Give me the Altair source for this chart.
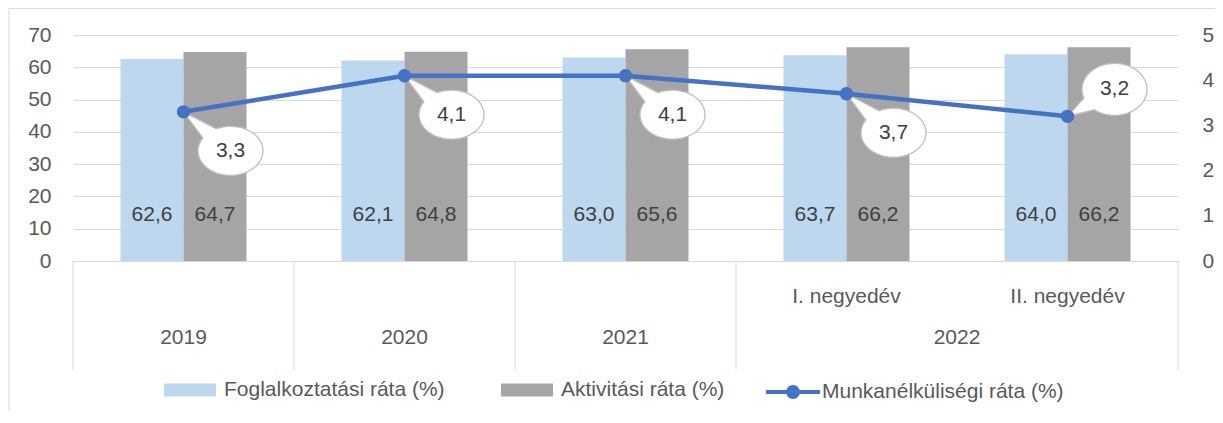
import math
import numpy as np
import pandas as pd
import altair as alt

# ---------------- data ----------------
periods = ["2019", "2020", "2021", "2022 I. negyedév", "2022 II. negyedév"]
year_labels = ["2019", "2020", "2021", "2022", "2022"]
quarter_labels = ["", "", "", "I. negyedév", "II. negyedév"]

foglalkoztatasi = [62.6, 62.1, 63.0, 63.7, 64.0]
aktivitasi = [64.7, 64.8, 65.6, 66.2, 66.2]
munkanelkuli = [3.3, 4.1, 4.1, 3.7, 3.2]

S_F = "Foglalkoztatási ráta (%)"
S_A = "Aktivitási ráta (%)"
S_M = "Munkanélküliségi ráta (%)"

left_ticks = [0, 10, 20, 30, 40, 50, 60, 70]
right_ticks = [0, 1, 2, 3, 4, 5]

FONT = "Liberation Sans"
FS = 21


def fmt(v):
    return f"{v:.1f}".replace(".", ",")


bars_df = pd.DataFrame({
    "period": periods * 2,
    "series": [S_F] * len(periods) + [S_A] * len(periods),
    "value": foglalkoztatasi + aktivitasi,
})
bars_df["label"] = bars_df["value"].map(fmt)

line_df = pd.DataFrame({
    "period": periods,
    "series": S_M,
    "value": munkanelkuli,
})
line_df["label"] = line_df["value"].map(fmt)
line_df["side"] = ["above" if i == len(periods) - 1 else "below" for i in range(len(periods))]

axis_df = pd.DataFrame({"period": periods, "year": year_labels, "quarter": quarter_labels})
axis_df["first"] = axis_df["year"] != axis_df["year"].shift(1)
axis_df["span"] = axis_df.groupby("year")["year"].transform("count")
axis_df["last"] = [False] * (len(periods) - 1) + [True]


# ---------------- shapes (unit = 10 px at size 400) ----------------
def callout_path(cx, cy, rx, ry, half=0.28, n=80):
    t0 = math.atan2(-cy / ry, -cx / rx)
    pts = [(0.0, 0.0)]
    for t in np.linspace(t0 + half, t0 + 2 * math.pi - half, n):
        pts.append((cx + rx * math.cos(t), cy + ry * math.sin(t)))
    return "M" + "L".join(f"{x:.3f},{y:.3f}" for x, y in pts) + "Z"


def circle_path(r, n=28):
    pts = [(r * math.cos(t), r * math.sin(t)) for t in np.linspace(0, 2 * math.pi, n, endpoint=False)]
    return "M" + "L".join(f"{x:.3f},{y:.3f}" for x, y in pts) + "Z"


P_BELOW = callout_path(4.7, 3.9, 3.25, 2.45)
P_ABOVE = callout_path(4.7, -2.7, 3.25, 2.6)

RECT_PATH = "M-2,-0.5H2V0.5H-2Z"          # 52 x 13 px at size 676
LINE_PATH = "M-2.08,0H2.08" + circle_path(0.15) + circle_path(0.38)

# ---------------- scales / axes ----------------
x_scale = alt.Scale(domain=periods, paddingInner=0, paddingOuter=0)
x_enc = alt.X("period:N", scale=x_scale, axis=None)

left_scale = alt.Scale(domain=[0, 70], nice=False)
left_axis = alt.Axis(values=left_ticks, grid=True, gridColor="#D9D9D9", gridWidth=1,
                     domain=False, ticks=False, labelPadding=22, labelFontSize=FS,
                     labelFont=FONT, labelColor="#595959", title=None)
right_scale = alt.Scale(domain=[0, 5], nice=False)
right_axis = alt.Axis(values=right_ticks, grid=False, orient="right",
                      domain=False, ticks=False, labelPadding=24, labelFontSize=FS,
                      labelFont=FONT, labelColor="#595959", title=None, labelAlign="left")

GRID = "#D9D9D9"

border = alt.Chart(pd.DataFrame({"k": [0]})).mark_rect(
    fillOpacity=0, stroke=GRID, strokeWidth=1
).encode(x=alt.value(-64), x2=alt.value(1300), y=alt.value(-26.5), y2=alt.value(500))

xoff = alt.XOffset("series:N", sort=[S_F, S_A],
                   scale=alt.Scale(domain=[S_F, S_A], paddingInner=0, paddingOuter=0.754))

bars = alt.Chart(bars_df).mark_bar().encode(
    x=x_enc,
    xOffset=xoff,
    y=alt.Y("value:Q", scale=left_scale, axis=left_axis, stack=None),
    color=alt.Color("series:N",
                    scale=alt.Scale(domain=[S_F, S_A], range=["#BDD7EE", "#A5A5A5"]),
                    legend=alt.Legend(orient="none", legendX=104, legendY=342,
                                      direction="horizontal", title=None,
                                      symbolType=RECT_PATH, symbolSize=676,
                                      symbolStrokeWidth=0, symbolOpacity=1,
                                      labelFontSize=FS, labelFont=FONT, labelColor="#595959",
                                      labelOffset=21, columnPadding=56, padding=0,
                                      labelLimit=400)),
)

bar_text = alt.Chart(bars_df).mark_text(
    fontSize=FS, font=FONT, color="#404040", dy=-46, baseline="middle"
).encode(
    x=x_enc,
    xOffset=xoff,
    y=alt.Y(datum=0, type="quantitative", scale=left_scale, axis=left_axis),
    text="label:N",
)

seps = alt.Chart(axis_df).mark_rule(color=GRID, strokeWidth=1).encode(
    x=alt.X("period:N", scale=x_scale, axis=None, bandPosition=0),
    y=alt.value(226), y2=alt.value(335),
).transform_filter("datum.first")

sep_end = alt.Chart(axis_df).mark_rule(color=GRID, strokeWidth=1).encode(
    x=alt.X("period:N", scale=x_scale, axis=None, bandPosition=1),
    y=alt.value(226), y2=alt.value(335),
).transform_filter("datum.last")

quarter_text = alt.Chart(axis_df).mark_text(
    fontSize=FS, font=FONT, color="#595959", baseline="middle"
).encode(x=x_enc, y=alt.value(262), text="quarter:N").transform_filter("datum.quarter != ''")

year_single = alt.Chart(axis_df).mark_text(
    fontSize=FS, font=FONT, color="#595959", baseline="middle"
).encode(x=x_enc, y=alt.value(303), text="year:N").transform_filter("datum.span == 1")

year_multi = alt.Chart(axis_df).mark_text(
    fontSize=FS, font=FONT, color="#595959", baseline="middle"
).encode(
    x=alt.X("period:N", scale=x_scale, axis=None, bandPosition=1),
    y=alt.value(303), text="year:N",
).transform_filter("datum.span == 2 && datum.first")

left_layer = alt.layer(border, bars, bar_text, seps, sep_end, quarter_text, year_single, year_multi)

# right axis group
y_right = alt.Y("value:Q", scale=right_scale, axis=right_axis)

callouts = alt.Chart(line_df).mark_point(
    filled=True, fill="white", stroke="#BFBFBF", strokeWidth=1.3, size=400, opacity=1
).encode(
    x=x_enc, y=y_right,
    shape=alt.Shape("side:N", scale=alt.Scale(domain=["below", "above"], range=[P_BELOW, P_ABOVE]),
                    legend=None),
)

callout_text_below = alt.Chart(line_df).mark_text(
    fontSize=FS, font=FONT, color="#404040", dx=47, dy=39, baseline="middle"
).encode(x=x_enc, y=y_right, text="label:N").transform_filter("datum.side == 'below'")

callout_text_above = alt.Chart(line_df).mark_text(
    fontSize=FS, font=FONT, color="#404040", dx=47, dy=-27, baseline="middle"
).encode(x=x_enc, y=y_right, text="label:N").transform_filter("datum.side == 'above'")

line = alt.Chart(line_df).mark_line(strokeWidth=4.5).encode(
    x=x_enc, y=y_right,
    stroke=alt.Stroke("series:N", scale=alt.Scale(domain=[S_M], range=["#4472C4"]),
                      legend=alt.Legend(orient="none", legendX=705, legendY=342,
                                        title=None, symbolType=LINE_PATH, symbolSize=676,
                                        symbolStrokeWidth=4, labelFontSize=FS, labelFont=FONT,
                                        labelColor="#595959", labelOffset=14, padding=0,
                                        labelLimit=400)),
)

points = alt.Chart(line_df).mark_point(filled=True, size=180, color="#4472C4", opacity=1).encode(
    x=x_enc, y=y_right,
)

right_layer = alt.layer(callouts, callout_text_below, callout_text_above, line, points)

chart = alt.layer(left_layer, right_layer).resolve_scale(
    y="independent", color="independent"
).properties(
    width=1105, height=226,
    padding={"left": 65, "top": 27, "right": 37, "bottom": 150},
    autosize=alt.AutoSizeParams(type="none"),
).configure_view(stroke=None).configure_text(font=FONT)

chart.save("out.html", embed_options={"renderer": "svg", "actions": False})
